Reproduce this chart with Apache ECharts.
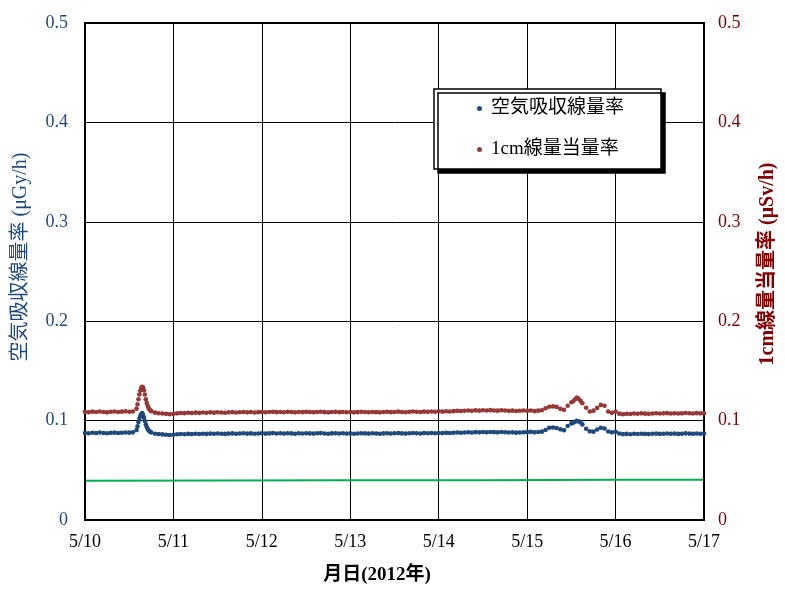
<!DOCTYPE html>
<html>
<head>
<meta charset="utf-8">
<script src="https://cdn.jsdelivr.net/npm/echarts@6/dist/echarts.min.js"></script>
<style>html,body{margin:0;padding:0;background:#fff;}#c{width:785px;height:591px;}</style>
</head>
<body>
<div id="c"></div>
<script>
// Time axis: hours from 5/10 00:00
const dayLabels = ['5/10','5/11','5/12','5/13','5/14','5/15','5/16','5/17'];
// hourly air absorbed dose rate (μGy/h), hours 0..168
const hourlyAir = [
0.0876,0.0872,0.0878,0.0874,0.0880,0.0876,0.0873,0.0877,0.0879,0.0875,0.0878,0.0881,
0.0879,0.0882,0.0905,0.1045,0.1030,0.0918,0.0880,0.0868,0.0864,0.0861,0.0858,0.0855,
0.0858,0.0862,0.0865,0.0863,0.0866,0.0864,0.0867,0.0865,0.0868,0.0866,0.0869,0.0867,
0.0870,0.0868,0.0866,0.0869,0.0871,0.0868,0.0870,0.0872,0.0869,0.0871,0.0868,0.0870,
0.0872,0.0869,0.0871,0.0874,0.0870,0.0872,0.0869,0.0873,0.0871,0.0868,0.0872,0.0870,
0.0873,0.0871,0.0869,0.0872,0.0874,0.0870,0.0868,0.0871,0.0873,0.0870,0.0872,0.0869,
0.0871,0.0868,0.0870,0.0873,0.0871,0.0869,0.0872,0.0870,0.0868,0.0871,0.0873,0.0870,
0.0872,0.0874,0.0871,0.0869,0.0872,0.0875,0.0873,0.0870,0.0874,0.0872,0.0875,0.0873,
0.0876,0.0874,0.0877,0.0875,0.0878,0.0880,0.0878,0.0881,0.0883,0.0880,0.0884,0.0882,
0.0885,0.0883,0.0886,0.0884,0.0882,0.0885,0.0883,0.0880,0.0882,0.0879,0.0881,0.0883,
0.0884,0.0887,0.0882,0.0886,0.0889,0.0905,0.0928,0.0931,0.0926,0.0912,0.0904,0.0945,
0.0972,0.0988,0.0992,0.0962,0.0918,0.0892,0.0889,0.0910,0.0928,0.0920,0.0890,0.0882,
0.0888,0.0870,0.0864,0.0866,0.0863,0.0867,0.0865,0.0868,0.0866,0.0864,0.0867,0.0869,
0.0866,0.0868,0.0870,0.0867,0.0869,0.0866,0.0868,0.0871,0.0869,0.0867,0.0870,0.0868,
0.0870
];
// hourly 1cm dose equivalent rate (μSv/h), hours 0..168
const hourlyDose = [
0.1088,0.1084,0.1090,0.1086,0.1092,0.1087,0.1083,0.1089,0.1091,0.1086,0.1090,0.1093,
0.1089,0.1092,0.1120,0.1300,0.1305,0.1150,0.1095,0.1080,0.1074,0.1071,0.1068,0.1064,
0.1068,0.1073,0.1077,0.1075,0.1079,0.1076,0.1080,0.1078,0.1082,0.1079,0.1083,0.1080,
0.1084,0.1081,0.1079,0.1083,0.1085,0.1082,0.1084,0.1087,0.1083,0.1086,0.1082,0.1085,
0.1087,0.1084,0.1086,0.1089,0.1085,0.1087,0.1084,0.1088,0.1086,0.1083,0.1087,0.1085,
0.1088,0.1086,0.1084,0.1087,0.1089,0.1085,0.1083,0.1086,0.1088,0.1085,0.1087,0.1084,
0.1086,0.1083,0.1085,0.1088,0.1086,0.1084,0.1087,0.1085,0.1083,0.1086,0.1088,0.1085,
0.1087,0.1090,0.1086,0.1084,0.1088,0.1091,0.1089,0.1086,0.1090,0.1088,0.1092,0.1089,
0.1093,0.1090,0.1094,0.1092,0.1095,0.1098,0.1096,0.1099,0.1102,0.1098,0.1103,0.1100,
0.1104,0.1101,0.1105,0.1102,0.1100,0.1104,0.1101,0.1098,0.1100,0.1097,0.1099,0.1101,
0.1098,0.1102,0.1095,0.1100,0.1104,0.1125,0.1140,0.1143,0.1138,0.1118,0.1108,0.1150,
0.1185,0.1215,0.1220,0.1175,0.1130,0.1092,0.1100,0.1128,0.1158,0.1150,0.1092,0.1078,
0.1090,0.1070,0.1064,0.1068,0.1066,0.1071,0.1069,0.1073,0.1070,0.1068,0.1072,0.1074,
0.1071,0.1073,0.1075,0.1072,0.1074,0.1071,0.1073,0.1076,0.1074,0.1072,0.1075,0.1073,
0.1074
];
// extra sub-hourly readings during the short peaks
const extraHours = [14.25,14.5,14.75,15.25,15.5,15.75,16.25,16.5,16.75,17.25,17.5,17.75,132.5,133.5,134.5];
const extraAir  = [0.0942,0.0985,0.1018,0.1066,0.1075,0.1060,0.0995,0.0962,0.0935,0.0903,0.0893,0.0886,0.0978,0.0998,0.0980];
const extraDose = [0.1165,0.1215,0.1262,0.1328,0.1340,0.1332,0.1262,0.1215,0.1178,0.1128,0.1112,0.1102,0.1195,0.1232,0.1198];
// green reference level
const levelHours = [0, 36, 72, 108, 144, 168];
const levelValues = [0.0394, 0.0397, 0.0399, 0.0401, 0.0404, 0.0405];

const airName = '空気吸収線量率';
const doseName = '1cm線量当量率';

function build(hourly, extra) {
  const pts = hourly.map((v, i) => [i / 24, v]);
  extraHours.forEach((h, i) => pts.push([h / 24, extra[i]]));
  pts.sort((a, b) => a[0] - b[0]);
  return pts;
}
const airData = build(hourlyAir, extraAir);
const doseData = build(hourlyDose, extraDose);
const levelData = levelHours.map((h, i) => [h / 24, levelValues[i]]);

const FONT = "'Liberation Serif','Noto Sans CJK JP',serif";
const BLUE = '#1F497D';
const RED = '#953735';
const LBLUE = '#1F497D';
const LRED = '#800000';

const chart = echarts.init(document.getElementById('c'), null, {renderer: 'canvas'});
chart.setOption({
  animation: false,
  backgroundColor: '#fff',
  grid: {left: 85, right: 81, top: 23, bottom: 71, show: true, borderColor: '#000', borderWidth: 2, backgroundColor: 'transparent', z: 3},
  xAxis: {
    type: 'value', min: 0, max: 7, interval: 1,
    axisLine: {show: false}, axisTick: {show: false},
    splitLine: {show: true, lineStyle: {color: '#000', width: 1}},
    axisLabel: {color: '#000', fontFamily: FONT, fontSize: 18, margin: 13,
      formatter: v => dayLabels[Math.round(v)] || ''}
  },
  yAxis: [{
    type: 'value', min: 0, max: 0.5, interval: 0.1, position: 'left',
    axisLine: {show: false}, axisTick: {show: false},
    splitLine: {show: true, lineStyle: {color: '#000', width: 1}},
    axisLabel: {color: LBLUE, fontFamily: FONT, fontSize: 18, margin: 17,
      formatter: v => v === 0 ? '0' : v.toFixed(1)}
  }, {
    type: 'value', min: 0, max: 0.5, interval: 0.1, position: 'right',
    axisLine: {show: false}, axisTick: {show: false}, splitLine: {show: false},
    axisLabel: {color: LRED, fontFamily: FONT, fontSize: 18, margin: 14,
      formatter: v => v === 0 ? '0' : v.toFixed(1)}
  }],
  legend: {
    data: [airName, doseName],
    orient: 'vertical', left: 434, top: 89,
    backgroundColor: '#fff', borderColor: '#000', borderWidth: 1.5,
    shadowColor: '#000', shadowOffsetX: 4, shadowOffsetY: 4, shadowBlur: 0,
    padding: [10, 37, 10, 43], itemGap: 22, itemWidth: 5, itemHeight: 5,
    icon: 'circle',
    textStyle: {fontFamily: FONT, fontSize: 19, color: '#000', padding: [0, 0, 0, 4]}
  },
  graphic: [
    {type: 'text', x: 21, y: 257, rotation: Math.PI / 2,
     style: {text: '空気吸収線量率 (μGy/h)', fill: LBLUE, font: "20px " + FONT, align: 'center', verticalAlign: 'middle'}},
    {type: 'text', x: 768, y: 264, rotation: Math.PI / 2,
     style: {text: '1cm線量当量率 (μSv/h)', fill: LRED, font: "bold 20px " + FONT, align: 'center', verticalAlign: 'middle'}},
    {type: 'text', x: 377, y: 575,
     style: {text: '月日(2012年)', fill: '#000', font: "bold 19px " + FONT, align: 'center', verticalAlign: 'middle'}}
  ],
  series: [
    {name: 'level', type: 'line', data: levelData, showSymbol: false, symbol: 'none',
     lineStyle: {color: '#00B050', width: 2}, z: 2, silent: true},
    {name: airName, type: 'scatter', yAxisIndex: 0, data: airData, symbol: 'circle', symbolSize: 4.6,
     itemStyle: {color: BLUE, opacity: 1}, z: 4},
    {name: doseName, type: 'scatter', yAxisIndex: 1, data: doseData, symbol: 'circle', symbolSize: 4.6,
     itemStyle: {color: RED, opacity: 1}, z: 4}
  ]
});
</script>
</body>
</html>
